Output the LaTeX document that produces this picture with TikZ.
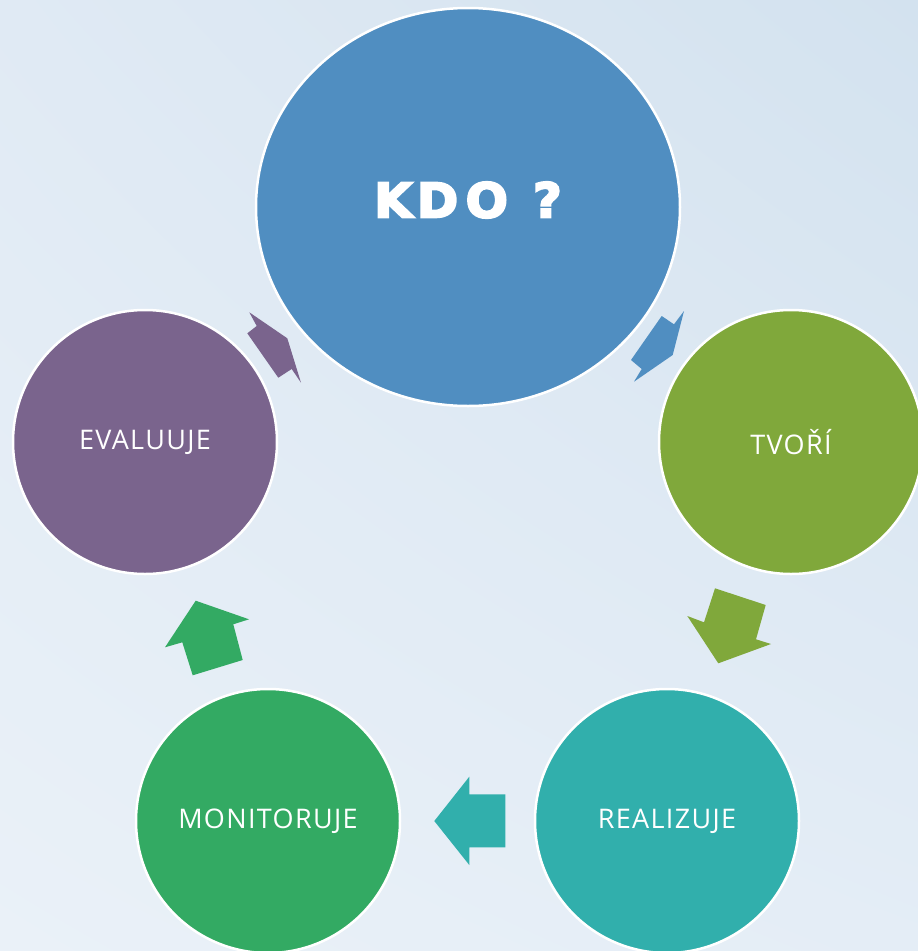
\documentclass[tikz,border=0pt]{standalone}
\usepackage{fontspec}
\usepackage{graphicx}
\setmainfont{Open Sans}[LetterSpace=5]
\newfontfamily\kdofont{DejaVu Sans Bold}[FakeBold=4]
\usetikzlibrary{shapes.geometric,shadings}
\definecolor{bgul}{HTML}{E0EAF4}
\definecolor{bgur}{HTML}{D3E2EF}
\definecolor{bgll}{HTML}{EAF1F8}
\definecolor{bglr}{HTML}{E4EDF6}
\definecolor{kdoblue}{HTML}{508EC1}
\definecolor{tvgreen}{HTML}{80A83B}
\definecolor{reteal}{HTML}{31AFAC}
\definecolor{mogreen}{HTML}{33AA63}
\definecolor{evpurple}{HTML}{7A648D}
\tikzset{
  bubble/.style={circle, draw=white, line width=2.5pt, minimum size=264pt, inner sep=0pt,
    text=white, font=\fontsize{27}{32}\selectfont},
  bigbubble/.style={ellipse, draw=white, line width=2.5pt, minimum width=424pt, minimum height=398pt,
    inner sep=0pt, fill=kdoblue},
  kdotext/.style={text=white, inner sep=0pt, font=\kdofont\fontsize{48}{55}\selectfont},
  blockarrow/.style={draw=none}
}
\begin{document}
\begin{tikzpicture}[x=1pt,y=-1pt]
\useasboundingbox (0,0) rectangle (918,951);
\shade[upper left=bgul, upper right=bgur, lower left=bgll, lower right=bglr] (0,0) rectangle (918,951);
% circles
\node[bigbubble] (kdo) at (468,207) {};
\node[kdotext] (kdolabel) at ([yshift=7pt]kdo.center) {\scalebox{1.04}[1]{K\kern4pt D\kern7pt O\kern24pt ?}};
\node[bubble, fill=tvgreen] (tvori) at (791,442) {TVOŘÍ};
\node[bubble, fill=reteal] (real) at (667,821) {REALIZUJE};
\node[bubble, fill=mogreen] (moni) at (268,821) {MONITORUJE};
\node[bubble, fill=evpurple] (eval) at (145,442) {EVALUUJE};
% block arrows
\fill[kdoblue, blockarrow] (631,360) -- (661.7,316) -- (674,324.3) -- (684,311) -- (672.7,355) -- (634,381.7) -- (641.7,369) -- cycle;
\fill[tvgreen, blockarrow] (715,588.3) -- (765.7,605) -- (756,639.3) -- (771,644) -- (718.3,663.3) -- (687.3,616) -- (704,622.3) -- cycle;
\fill[reteal, blockarrow] (469.3,776.7) -- (469.3,794.3) -- (505.3,794.3) -- (505.3,847.3) -- (469.3,847.3) -- (469.3,865) -- (434.3,821) -- cycle;
\fill[mogreen, blockarrow] (195.7,600.7) -- (249,619.3) -- (233.3,624.3) -- (242.7,660) -- (192.7,675.3) -- (182.3,642.3) -- (165,647.3) -- cycle;
\fill[evpurple, blockarrow] (249.3,312.3) -- (256.7,326) -- (247.3,333.3) -- (278.3,377.7) -- (291.7,369) -- (301,382.7) -- (287.3,338.3) -- cycle;
\end{tikzpicture}
\end{document}
